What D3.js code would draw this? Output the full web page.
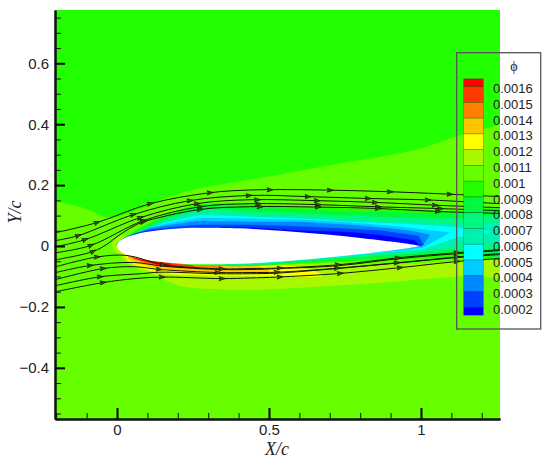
<!DOCTYPE html>
<html><head><meta charset="utf-8">
<script src="https://cdn.jsdelivr.net/npm/d3@7"></script>
<style>html,body{margin:0;padding:0;background:#fff}svg{display:block}</style>
</head><body><div id="chart"></div>
<script>
// ---- axis ticks
const xMajor=[0,0.5,1];
const xMinor=[-0.2,-0.1,0.1,0.2,0.3,0.4,0.6,0.7,0.8,0.9,1.1,1.2];
const yMajor=[-0.4,-0.2,0,0.2,0.4,0.6];
const yMinor=[-0.55,-0.5,-0.45,-0.35,-0.3,-0.25,-0.15,-0.1,-0.05,0.05,0.1,0.15,0.25,0.3,0.35,0.45,0.5,0.55,0.65,0.7,0.75];
// ---- legend
const legendTitle="\u03D5";
const levels=["0.0016","0.0015","0.0014","0.0013","0.0012","0.0011","0.001","0.0009","0.0008","0.0007","0.0006","0.0005","0.0004","0.0003","0.0002"];
const bandColors=["#ff0000","#ff3a00","#ff8000","#ffc400","#ffff00","#a8f800","#66ff00","#22ff00","#00f840","#00f880","#00f0b0","#00ffff","#00ccff","#0088ff","#0040ff","#0000ff"];
const baseColor="#66ff00";
// ---- airfoil
const foilX=[0,0.005,0.0125,0.025,0.05,0.075,0.1,0.15,0.2,0.25,0.3,0.4,0.5,0.6,0.7,0.8,0.9,0.95,1];
const foilT=[0,0.0122,0.0189,0.0262,0.0356,0.042,0.0468,0.0534,0.0574,0.0597,0.06,0.058,0.0529,0.0456,0.0366,0.0262,0.0145,0.0081,0];
// ---- contour regions [X/c, Y/c]
const regionTop=[[-0.35,0.95],[1.35,0.95],[1.35,0.43],[1.26,0.399],[1.112,0.359],[0.987,0.317],[0.711,0.267],[0.438,0.218],[0.273,0.19],[0.164,0.159],[0.053,0.113],[-0.023,0.093],[-0.112,0.126],[-0.204,0.146],[-0.35,0.16]];
const high11=[[1.35,-0.035],[1.35,-0.095],[1.128,-0.1],[0.875,-0.12],[0.602,-0.137],[0.438,-0.143],[0.217,-0.133],[0.141,-0.104],[0.053,-0.068],[0.01,-0.032],[-0.016,-0.002],[-0.01,0.018],[0.016,0.034],[0.05,0.02],[0.3,-0.02],[0.6,-0.05],[0.766,-0.06],[0.931,-0.06],[1.118,-0.05]];
const high12=[[0.023,-0.028],[0.053,-0.058],[0.141,-0.088],[0.306,-0.097],[0.47,-0.099],[0.678,-0.097],[0.602,-0.07],[0.3,-0.04],[0.05,-0.01]];
const high13=[[0.036,-0.038],[0.092,-0.064],[0.191,-0.08],[0.339,-0.087],[0.503,-0.084],[0.4,-0.05],[0.1,-0.02]];
const high14=[[0.03,-0.028],[0.109,-0.061],[0.224,-0.074],[0.355,-0.077],[0.3,-0.05],[0.1,-0.02]];
const high15=[[0.036,-0.028],[0.109,-0.056],[0.257,-0.071],[0.2,-0.04],[0.08,-0.02]];
const high16=[[0.053,-0.038],[0.125,-0.059],[0.181,-0.067],[0.15,-0.04]];
const low10=[[-0.003,0.005],[0.026,0.028],[0.076,0.06],[0.164,0.103],[0.273,0.136],[0.438,0.136],[0.602,0.13],[0.766,0.123],[0.931,0.12],[1.118,0.116],[1.35,0.113],[1.35,-0.032],[1.118,-0.035],[0.931,-0.045],[0.766,-0.051],[0.602,-0.058],[0.438,-0.066],[0.306,-0.064],[0.207,-0.058],[0.1,-0.02]];
const low09=[[0.003,0.008],[0.026,0.026],[0.076,0.054],[0.164,0.097],[0.273,0.13],[0.438,0.126],[0.602,0.12],[0.766,0.113],[0.931,0.11],[1.118,0.107],[1.35,0.107],[1.35,-0.025],[1.118,-0.025],[0.931,-0.035],[0.766,-0.045],[0.602,-0.054],[0.438,-0.064],[0.322,-0.062],[0.24,-0.03]];
const low08=[[0.003,0.008],[0.033,0.028],[0.076,0.051],[0.164,0.09],[0.273,0.12],[0.438,0.113],[0.602,0.107],[0.766,0.1],[0.931,0.093],[1.118,0.09],[1.35,0.085],[1.35,-0.012],[1.118,-0.012],[0.931,-0.028],[0.766,-0.038],[0.602,-0.051],[0.438,-0.061],[0.339,-0.058],[0.25,-0.02]];
const low07=[[0.007,0.011],[0.036,0.028],[0.076,0.047],[0.164,0.084],[0.273,0.11],[0.438,0.103],[0.602,0.097],[0.766,0.087],[0.931,0.08],[1.118,0.074],[1.35,0.064],[1.35,0.011],[1.161,0.011],[1.118,0.001],[0.997,-0.018],[0.931,-0.022],[0.766,-0.035],[0.602,-0.048],[0.438,-0.06],[0.355,-0.058],[0.25,-0.02]];
const low06=[[0.01,0.013],[0.043,0.031],[0.082,0.047],[0.164,0.079],[0.273,0.102],[0.438,0.097],[0.602,0.09],[0.766,0.08],[0.931,0.074],[1.095,0.064],[1.234,0.047],[1.118,0.028],[1.003,-0.012],[0.931,-0.017],[0.766,-0.032],[0.602,-0.046],[0.438,-0.058],[0.372,-0.058],[0.25,-0.02]];
const low05=[[0.013,0.016],[0.043,0.033],[0.092,0.054],[0.164,0.074],[0.273,0.093],[0.438,0.09],[0.602,0.087],[0.766,0.077],[0.931,0.064],[1.095,0.044],[1.007,-0.005],[0.931,-0.015],[0.766,-0.028],[0.602,-0.045],[0.438,-0.056],[0.388,-0.056],[0.25,-0.02]];
const low04=[[0.016,0.019],[0.049,0.037],[0.109,0.059],[0.174,0.07],[0.273,0.083],[0.438,0.08],[0.602,0.08],[0.766,0.07],[0.865,0.062],[0.964,0.051],[1.03,0.037],[1.003,-0.002],[0.95,-0.005],[0.5,0]];
const low03=[[0.016,0.024],[0.059,0.042],[0.109,0.054],[0.174,0.062],[0.273,0.07],[0.438,0.07],[0.602,0.065],[0.766,0.057],[0.865,0.052],[0.99,0.034],[1.01,0.005],[1,0],[0.5,0]];
const low02=[[0.013,0.021],[0.059,0.039],[0.109,0.051],[0.174,0.057],[0.273,0.062],[0.438,0.061],[0.602,0.051],[0.766,0.046],[0.865,0.036],[0.98,0.018],[1,0],[0.5,0]];
// ---- streamlines and their arrow stations
const stream1=[[-0.201,0.044],[-0.066,0.077],[0.109,0.139],[0.306,0.175],[0.438,0.184],[0.602,0.185],[0.766,0.182],[0.931,0.177],[1.118,0.169],[1.26,0.162]];
const stream2=[[-0.201,0.018],[-0.128,0.034],[0.053,0.103],[0.24,0.149],[0.438,0.166],[0.635,0.162],[0.832,0.156],[1.03,0.151],[1.26,0.139]];
const stream3=[[-0.201,-0.002],[-0.105,0.021],[0.076,0.093],[0.263,0.139],[0.438,0.152],[0.655,0.149],[0.855,0.143],[1.046,0.134],[1.26,0.126]];
const stream4=[[-0.201,-0.022],[-0.086,0.002],[0.086,0.083],[0.273,0.129],[0.438,0.139],[0.658,0.136],[0.849,0.129],[1.063,0.123],[1.26,0.116]];
const stream5=[[-0.201,-0.045],[-0.079,-0.018],[-0.03,0.008],[0,0.031],[0.053,0.064],[0.086,0.079],[0.273,0.12],[0.438,0.129],[0.658,0.128],[0.865,0.123],[1.063,0.113],[1.26,0.107]];
const stream6=[[-0.201,-0.068],[-0.066,-0.036],[0.033,-0.031],[0.151,-0.061],[0.345,-0.075],[0.438,-0.074],[0.536,-0.072],[0.734,-0.061],[0.931,-0.038],[1.118,-0.022],[1.26,-0.012]];
const stream7=[[-0.201,-0.087],[-0.089,-0.064],[0.053,-0.054],[0.151,-0.066],[0.345,-0.077],[0.438,-0.077],[0.536,-0.074],[0.734,-0.064],[0.931,-0.041],[1.118,-0.025],[1.26,-0.015]];
const stream8=[[-0.201,-0.11],[-0.046,-0.074],[0.059,-0.068],[0.141,-0.077],[0.332,-0.087],[0.438,-0.087],[0.526,-0.086],[0.724,-0.073],[0.921,-0.055],[1.118,-0.036],[1.26,-0.025]];
const stream9=[[-0.201,-0.13],[-0.056,-0.101],[0.076,-0.091],[0.141,-0.086],[0.332,-0.091],[0.438,-0.091],[0.526,-0.089],[0.724,-0.074],[0.921,-0.056],[1.118,-0.038],[1.26,-0.028]];
const stream10=[[-0.201,-0.15],[-0.046,-0.12],[0.059,-0.107],[0.148,-0.102],[0.345,-0.107],[0.438,-0.105],[0.526,-0.102],[0.734,-0.09],[0.931,-0.071],[1.118,-0.051],[1.26,-0.041]];
const arrows1=[-0.066,0.109,0.306,0.503,0.701,0.898,1.095];
const arrows2=[-0.128,0.053,0.24,0.434,0.628,0.826,1.023];
const arrows3=[-0.105,0.076,0.263,0.461,0.658,0.849,1.046];
const arrows4=[-0.086,0.086,0.273,0.464,0.661,0.859,1.063];
const arrows5=[-0.079,0.086,0.273,0.47,0.661,0.859,1.056];
const arrows6=[-0.066,0.151,0.345,0.536,0.727,0.924,1.118];
const arrows7=[-0.089];
const arrows8=[-0.046,0.138,0.332,0.526,0.724,0.921,1.118];
const arrows9=[-0.056];
const arrows10=[-0.046,0.148,0.345,0.536,0.734,0.931,1.118];

const W=550,H=459;
const x=d3.scaleLinear().domain([-0.204,1.26]).range([55,500]);
const y=d3.scaleLinear().domain([-0.568,0.775]).range([419,10]);
const svg=d3.select("#chart").append("svg").attr("width",W).attr("height",H).style("background","#fff");
svg.append("defs").append("clipPath").attr("id","plot").append("rect")
  .attr("x",x.range()[0]).attr("y",y.range()[1]).attr("width",x.range()[1]-x.range()[0]).attr("height",y.range()[0]-y.range()[1]);
const plot=svg.append("g").attr("clip-path","url(#plot)");
plot.append("rect").attr("x",x.range()[0]).attr("y",y.range()[1]).attr("width",x.range()[1]-x.range()[0]).attr("height",y.range()[0]-y.range()[1]).attr("fill",baseColor);

const poly=d3.line().x(d=>x(d[0])).y(d=>y(d[1])).curve(d3.curveCatmullRomClosed.alpha(0.5));
const polySharp=d3.line().x(d=>x(d[0])).y(d=>y(d[1])).curve(d3.curveLinearClosed);
const layers=[
 [regionTop,7,poly],[high11,5,poly],[high12,4,poly],[high13,3,poly],[high14,2,poly],[high15,1,poly],[high16,0,poly],
 [low10,7,poly],[low09,8,poly],[low08,9,poly],[low07,10,poly],[low06,11,polySharp],[low05,12,polySharp],[low04,13,polySharp],[low03,14,polySharp],[low02,15,polySharp]
];
plot.selectAll("path.band").data(layers).join("path").attr("class","band")
  .attr("d",d=>d[2](d[0])).attr("fill",d=>bandColors[d[1]]);

// airfoil
const foil=foilX.map((v,i)=>[v,foilT[i]]).reverse().concat(foilX.slice(1).map((v,i)=>[v,-foilT[i+1]]));
plot.append("path").attr("d",d3.line().x(d=>x(d[0])).y(d=>y(d[1])).curve(d3.curveCatmullRomClosed.alpha(0.5))(foil)).attr("fill","#fff");

// streamlines
const streams=[stream1,stream2,stream3,stream4,stream5,stream6,stream7,stream8,stream9,stream10];
const stations=[arrows1,arrows2,arrows3,arrows4,arrows5,arrows6,arrows7,arrows8,arrows9,arrows10];
const sl=d3.line().x(d=>x(d[0])).y(d=>y(d[1])).curve(d3.curveCatmullRom.alpha(0.5));
plot.selectAll("path.stream").data(streams).join("path").attr("class","stream")
  .attr("d",sl).attr("fill","none").attr("stroke","#101808").attr("stroke-width",1);
streams.forEach((s,i)=>{
  stations[i].forEach(ax=>{
    let k=d3.bisector(d=>d[0]).right(s,ax);
    k=Math.max(1,Math.min(s.length-1,k));
    const a=s[k-1],b=s[k],t=(ax-a[0])/(b[0]-a[0]);
    const px=x(ax),py=y(a[1]+(b[1]-a[1])*t);
    const ang=Math.atan2(y(b[1])-y(a[1]),x(b[0])-x(a[0]))*180/Math.PI;
    plot.append("path").attr("d","M3.2,0L-2.8,-2.1L-1.6,0L-2.8,2.1Z")
      .attr("transform",`translate(${px},${py}) rotate(${ang})`)
      .attr("fill","#3a5a10").attr("stroke","#101808").attr("stroke-width",0.7);
  });
});

// axes
const font="'Liberation Sans',Arial,sans-serif";
const gx=svg.append("g").attr("transform",`translate(0,${y.range()[0]})`);
gx.call(d3.axisBottom(x).tickValues(xMinor).tickSize(-6).tickFormat("").tickSizeOuter(0));
const gxM=svg.append("g").attr("transform",`translate(0,${y.range()[0]})`);
gxM.call(d3.axisBottom(x).tickValues(xMajor).tickSize(-11).tickSizeOuter(0).tickFormat(d3.format("~g")));
gxM.selectAll(".tick text").attr("y",5).attr("dy","0.71em");
const gy=svg.append("g").attr("transform",`translate(${x.range()[0]},0)`);
gy.call(d3.axisLeft(y).tickValues(yMinor).tickSize(-6).tickFormat("").tickSizeOuter(0));
const gyM=svg.append("g").attr("transform",`translate(${x.range()[0]},0)`);
gyM.call(d3.axisLeft(y).tickValues(yMajor).tickSize(-10).tickSizeOuter(0).tickFormat(d3.format("~g")));
gyM.selectAll(".tick text").attr("x",-6);
[gx,gy].forEach(g=>{g.selectAll(".tick line").attr("stroke","#111").attr("stroke-width",1);g.select(".domain").attr("stroke","#111").attr("stroke-width",2);});
[gxM,gyM].forEach(g=>{g.selectAll(".tick line").attr("stroke","#000").attr("stroke-width",2);g.select(".domain").attr("stroke","#111").attr("stroke-width",2);
  g.selectAll("text").attr("font-family",font).attr("font-size",15).attr("fill","#222");});

const serif="'Liberation Serif','Times New Roman',serif";
svg.append("text").attr("x",277).attr("y",455).attr("text-anchor","middle").attr("font-family",serif).attr("font-style","italic").attr("font-size",18).attr("fill","#222").text("X/c");
svg.append("text").attr("transform","translate(21,212) rotate(-90)").attr("text-anchor","middle").attr("font-family",serif).attr("font-style","italic").attr("font-size",18).attr("fill","#222").text("Y/c");

// legend
const lg=svg.append("g");
lg.append("rect").attr("x",456.7).attr("y",52.7).attr("width",84).attr("height",276.3).attr("fill","none").attr("stroke","#555").attr("stroke-width",1.3);
lg.append("text").attr("x",514).attr("y",71).attr("text-anchor","middle").attr("font-family",serif).attr("font-size",14).attr("fill","#222").text(legendTitle);
const ly=d3.scalePoint().domain(levels).range([86.7,307.3]);
const step=ly.step();
const edges=[ly(levels[0])-step/2].concat(levels.map(l=>ly(l))).concat([ly(levels[levels.length-1])+step/2]);
lg.selectAll("rect.cell").data(bandColors).join("rect").attr("class","cell")
  .attr("x",463.7).attr("width",19.6).attr("y",(d,i)=>edges[i]).attr("height",(d,i)=>edges[i+1]-edges[i])
  .attr("fill",d=>d).attr("stroke","#000").attr("stroke-opacity",0.3).attr("stroke-width",0.7);
lg.selectAll("text.lab").data(levels).join("text").attr("class","lab")
  .attr("x",493).attr("y",d=>ly(d)+6.5).attr("font-family",font).attr("font-size",13).attr("fill","#222").text(d=>d);
</script></body></html>
